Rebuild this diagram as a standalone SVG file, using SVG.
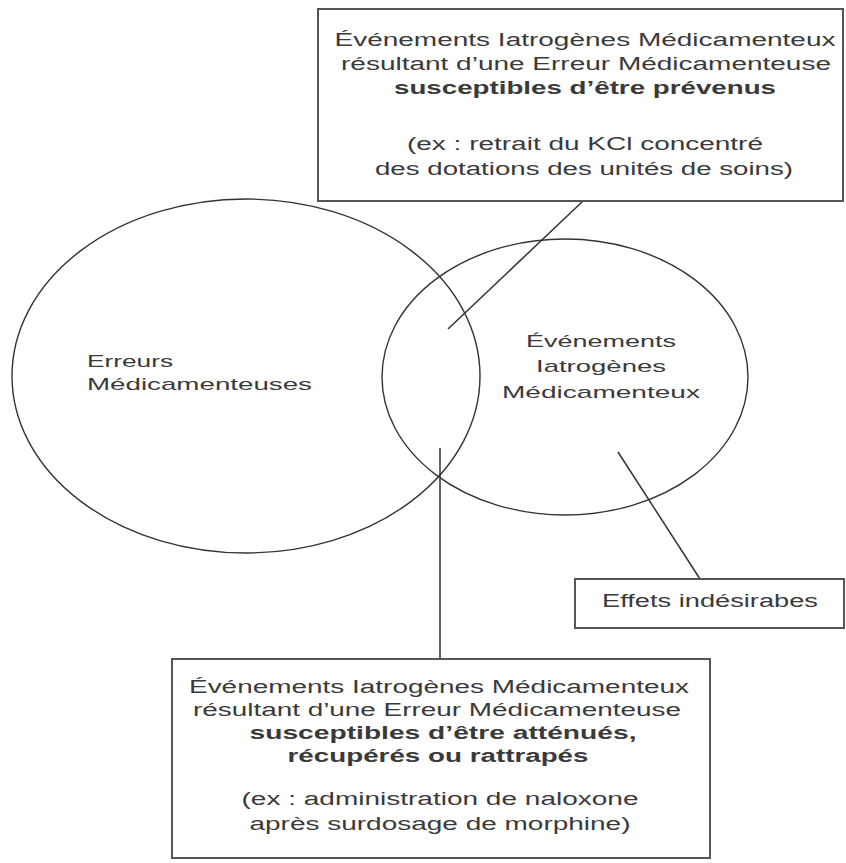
<svg xmlns="http://www.w3.org/2000/svg" width="846" height="863" viewBox="0 0 846 863">
<style>
  .bg { fill: #ffffff; }
  .box { fill: #ffffff; stroke: #555555; stroke-width: 2; }
  .set { fill: none; stroke: #333333; stroke-width: 1.4; }
  .conn { fill: none; stroke: #333333; stroke-width: 1.5; }
  text { font-family: "Liberation Sans", Arial, sans-serif; fill: #3a3a3a; }
  .t { font-size: 18px; text-anchor: middle; }
  .b { font-weight: bold; }
  .lbl { font-size: 17px; }
  .lblc { font-size: 17px; text-anchor: middle; }
</style>
<rect class="bg" x="0" y="0" width="846" height="863"/>

<g id="set-erreurs">
  <ellipse class="set" cx="246" cy="376" rx="234" ry="177"/>
  <text class="lbl" x="87" y="367" textLength="86" lengthAdjust="spacingAndGlyphs">Erreurs</text>
  <text class="lbl" x="87" y="390" textLength="225" lengthAdjust="spacingAndGlyphs">Médicamenteuses</text>
</g>

<g id="set-evenements">
  <ellipse class="set" cx="565" cy="377" rx="183" ry="138"/>
  <text class="lblc" x="601" y="347" textLength="150" lengthAdjust="spacingAndGlyphs">Événements</text>
  <text class="lblc" x="601" y="372" textLength="130" lengthAdjust="spacingAndGlyphs">Iatrogènes</text>
  <text class="lblc" x="601" y="398" textLength="198" lengthAdjust="spacingAndGlyphs">Médicamenteux</text>
</g>

<g id="connectors">
  <line class="conn" x1="583" y1="201" x2="448" y2="329"/>
  <line class="conn" x1="440" y1="448" x2="440" y2="659"/>
  <line class="conn" x1="618" y1="452" x2="700" y2="579"/>
</g>

<g id="box-prevenus">
  <rect class="box" x="318" y="9" width="525" height="192"/>
  <text class="t" x="585" y="46" textLength="501" lengthAdjust="spacingAndGlyphs">Événements Iatrogènes Médicamenteux</text>
  <text class="t" x="586" y="70" textLength="490" lengthAdjust="spacingAndGlyphs">résultant d’une Erreur Médicamenteuse</text>
  <text class="t b" x="585" y="94" textLength="382" lengthAdjust="spacingAndGlyphs">susceptibles d’être prévenus</text>
  <text class="t" x="585" y="150" textLength="356" lengthAdjust="spacingAndGlyphs">(ex : retrait du KCl concentré</text>
  <text class="t" x="584" y="175" textLength="418" lengthAdjust="spacingAndGlyphs">des dotations des unités de soins)</text>
</g>

<g id="box-effets">
  <rect class="box" x="575" y="579" width="269" height="49"/>
  <text class="t" x="710" y="607" textLength="216" lengthAdjust="spacingAndGlyphs">Effets indésirabes</text>
</g>

<g id="box-attenues">
  <rect class="box" x="172" y="659" width="538" height="199"/>
  <text class="t" x="439" y="693" textLength="500" lengthAdjust="spacingAndGlyphs">Événements Iatrogènes Médicamenteux</text>
  <text class="t" x="437" y="716" textLength="488" lengthAdjust="spacingAndGlyphs">résultant d’une Erreur Médicamenteuse</text>
  <text class="t b" x="443" y="739" textLength="387" lengthAdjust="spacingAndGlyphs">susceptibles d’être atténués,</text>
  <text class="t b" x="438" y="762" textLength="301" lengthAdjust="spacingAndGlyphs">récupérés ou rattrapés</text>
  <text class="t" x="440" y="805" textLength="397" lengthAdjust="spacingAndGlyphs">(ex : administration de naloxone</text>
  <text class="t" x="440" y="830" textLength="381" lengthAdjust="spacingAndGlyphs">après surdosage de morphine)</text>
</g>
</svg>
